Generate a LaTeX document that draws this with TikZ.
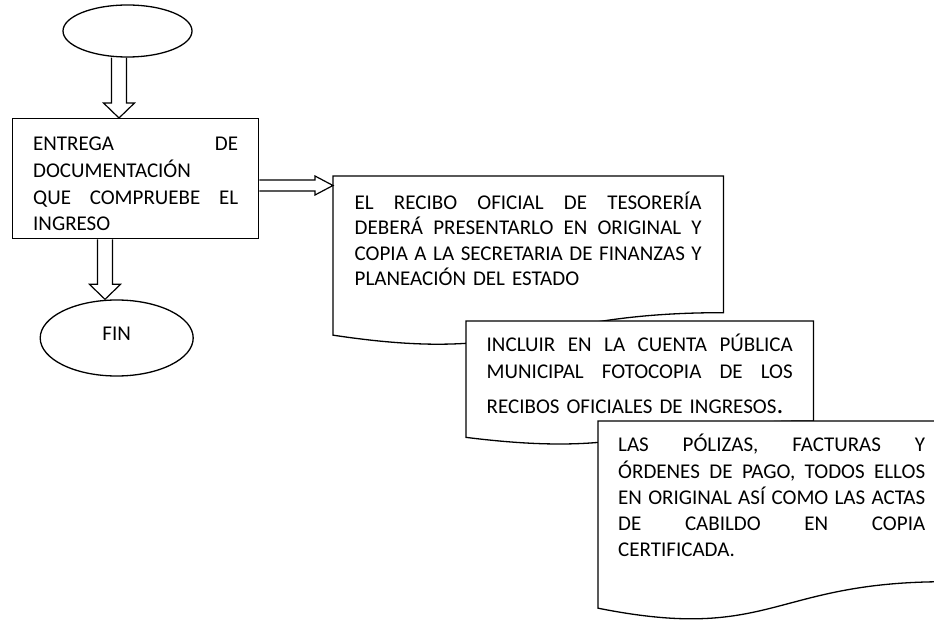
\documentclass[tikz,border=0pt]{standalone}
\usepackage{fontspec}
\setmainfont{Carlito}
\usetikzlibrary{shapes.geometric,calc,backgrounds}

\tikzset{
  linea/.style={line width=1.3pt},
  flecha/.style={line width=1.2pt, line join=miter},
  caja/.style={draw, linea, rectangle, inner ysep=0pt, align=left},
  ovalo/.style={draw, linea, ellipse, inner sep=0pt},
  hoja/.style={rectangle, inner ysep=0pt, align=left},
  letra/.style={font=\fontsize{21}{#1}\selectfont},
}
\newcommand{\just}[1]{\noindent\hbox to\hsize{\spaceskip=.25em plus 1fil minus .08em\relax #1}}
\newcommand{\bajar}[2]{%
  \draw[flecha] let \p1=(#1), \p2=(#2) in
    (\x2-7.5pt,\y1) -- (\x2-7.5pt,\y2+15pt) -- (\x2-15.5pt,\y2+15pt) -- (\p2)
    -- (\x2+15.5pt,\y2+15pt) -- (\x2+7.5pt,\y2+15pt) -- (\x2+7.5pt,\y1);}
\newcommand{\derecha}[2]{%
  \draw[flecha] let \p1=(#1), \p2=(#2) in
    (\x1,\y2+5.5pt) -- (\x2-18pt,\y2+5.5pt) -- (\x2-18pt,\y2+9.5pt) -- (\p2)
    -- (\x2-18pt,\y2-9.5pt) -- (\x2-18pt,\y2-5.5pt) -- (\x1,\y2-5.5pt);}

\begin{document}
\begin{tikzpicture}[x=1pt,y=-1pt]
	\useasboundingbox (0,0) rectangle (934,620);

	% inicio, caja y fin
	\node[ovalo, minimum width=129pt, minimum height=52pt] (ini) at (127.5,31) {};
	\node[caja, letra=26.7pt, text width=205pt, inner xsep=20.5pt, text height=32pt, text depth=88pt, anchor=north west] (doc) at (12,118)
		{\just{ENTREGA DE}\\DOCUMENTACIÓN\\\just{QUE COMPRUEBE EL}\\INGRESO};
	\node[ovalo, minimum width=153pt, minimum height=76pt, letra=24pt, text depth=8pt] (fin) at (116.7,338) {FIN};

	% documentos
	\node[hoja, letra=25.3pt, text width=347pt, inner xsep=21.5pt, text height=33.5pt, text depth=136.5pt, anchor=north west] (rec) at (333,176)
		{\just{EL RECIBO OFICIAL DE TESORERÍA}\\\just{DEBERÁ PRESENTARLO EN ORIGINAL Y}\\\just{COPIA A LA SECRETARIA DE FINANZAS Y}\\PLANEACIÓN DEL ESTADO};
	\node[hoja, letra=26.8pt, text width=306pt, inner xsep=20.5pt, text height=30.5pt, text depth=93.7pt, anchor=north west] (inc) at (466,321)
		{\just{INCLUIR EN LA CUENTA PÚBLICA}\\\just{MUNICIPAL FOTOCOPIA DE LOS}\\[8.2pt]RECIBOS OFICIALES DE INGRESOS{\fontsize{27}{27}\selectfont.}};
	\node[hoja, letra=26.1pt, text width=307pt, inner xsep=20pt, text height=30.7pt, text depth=169.3pt, anchor=north west] (pol) at (598,421)
		{\just{LAS PÓLIZAS, FACTURAS Y}\\\just{ÓRDENES DE PAGO, TODOS ELLOS}\\\just{EN ORIGINAL ASÍ COMO LAS ACTAS}\\\just{DE CABILDO EN COPIA}\\CERTIFICADA.};

	\begin{scope}[on background layer]
		\foreach \h in {rec,inc,pol}
			\draw[linea, fill=white] (\h.north west) -- (\h.north east) -- ($(\h.north east)!0.802!(\h.south east)$)
				.. controls ($(\h.north)!0.802!(\h.south)$) and ($(\h.north)!1.107!(\h.south)$) .. ($(\h.north west)!0.934!(\h.south west)$) -- cycle;
	\end{scope}

	% flechas
	\bajar{ini.south}{$(doc.north west)+(107,0)$}
	\bajar{doc.south}{$(fin.north)+(-11.7,0)$}
	\derecha{doc.east}{$(rec.north west)+(0,9.5)$}
\end{tikzpicture}
\end{document}
